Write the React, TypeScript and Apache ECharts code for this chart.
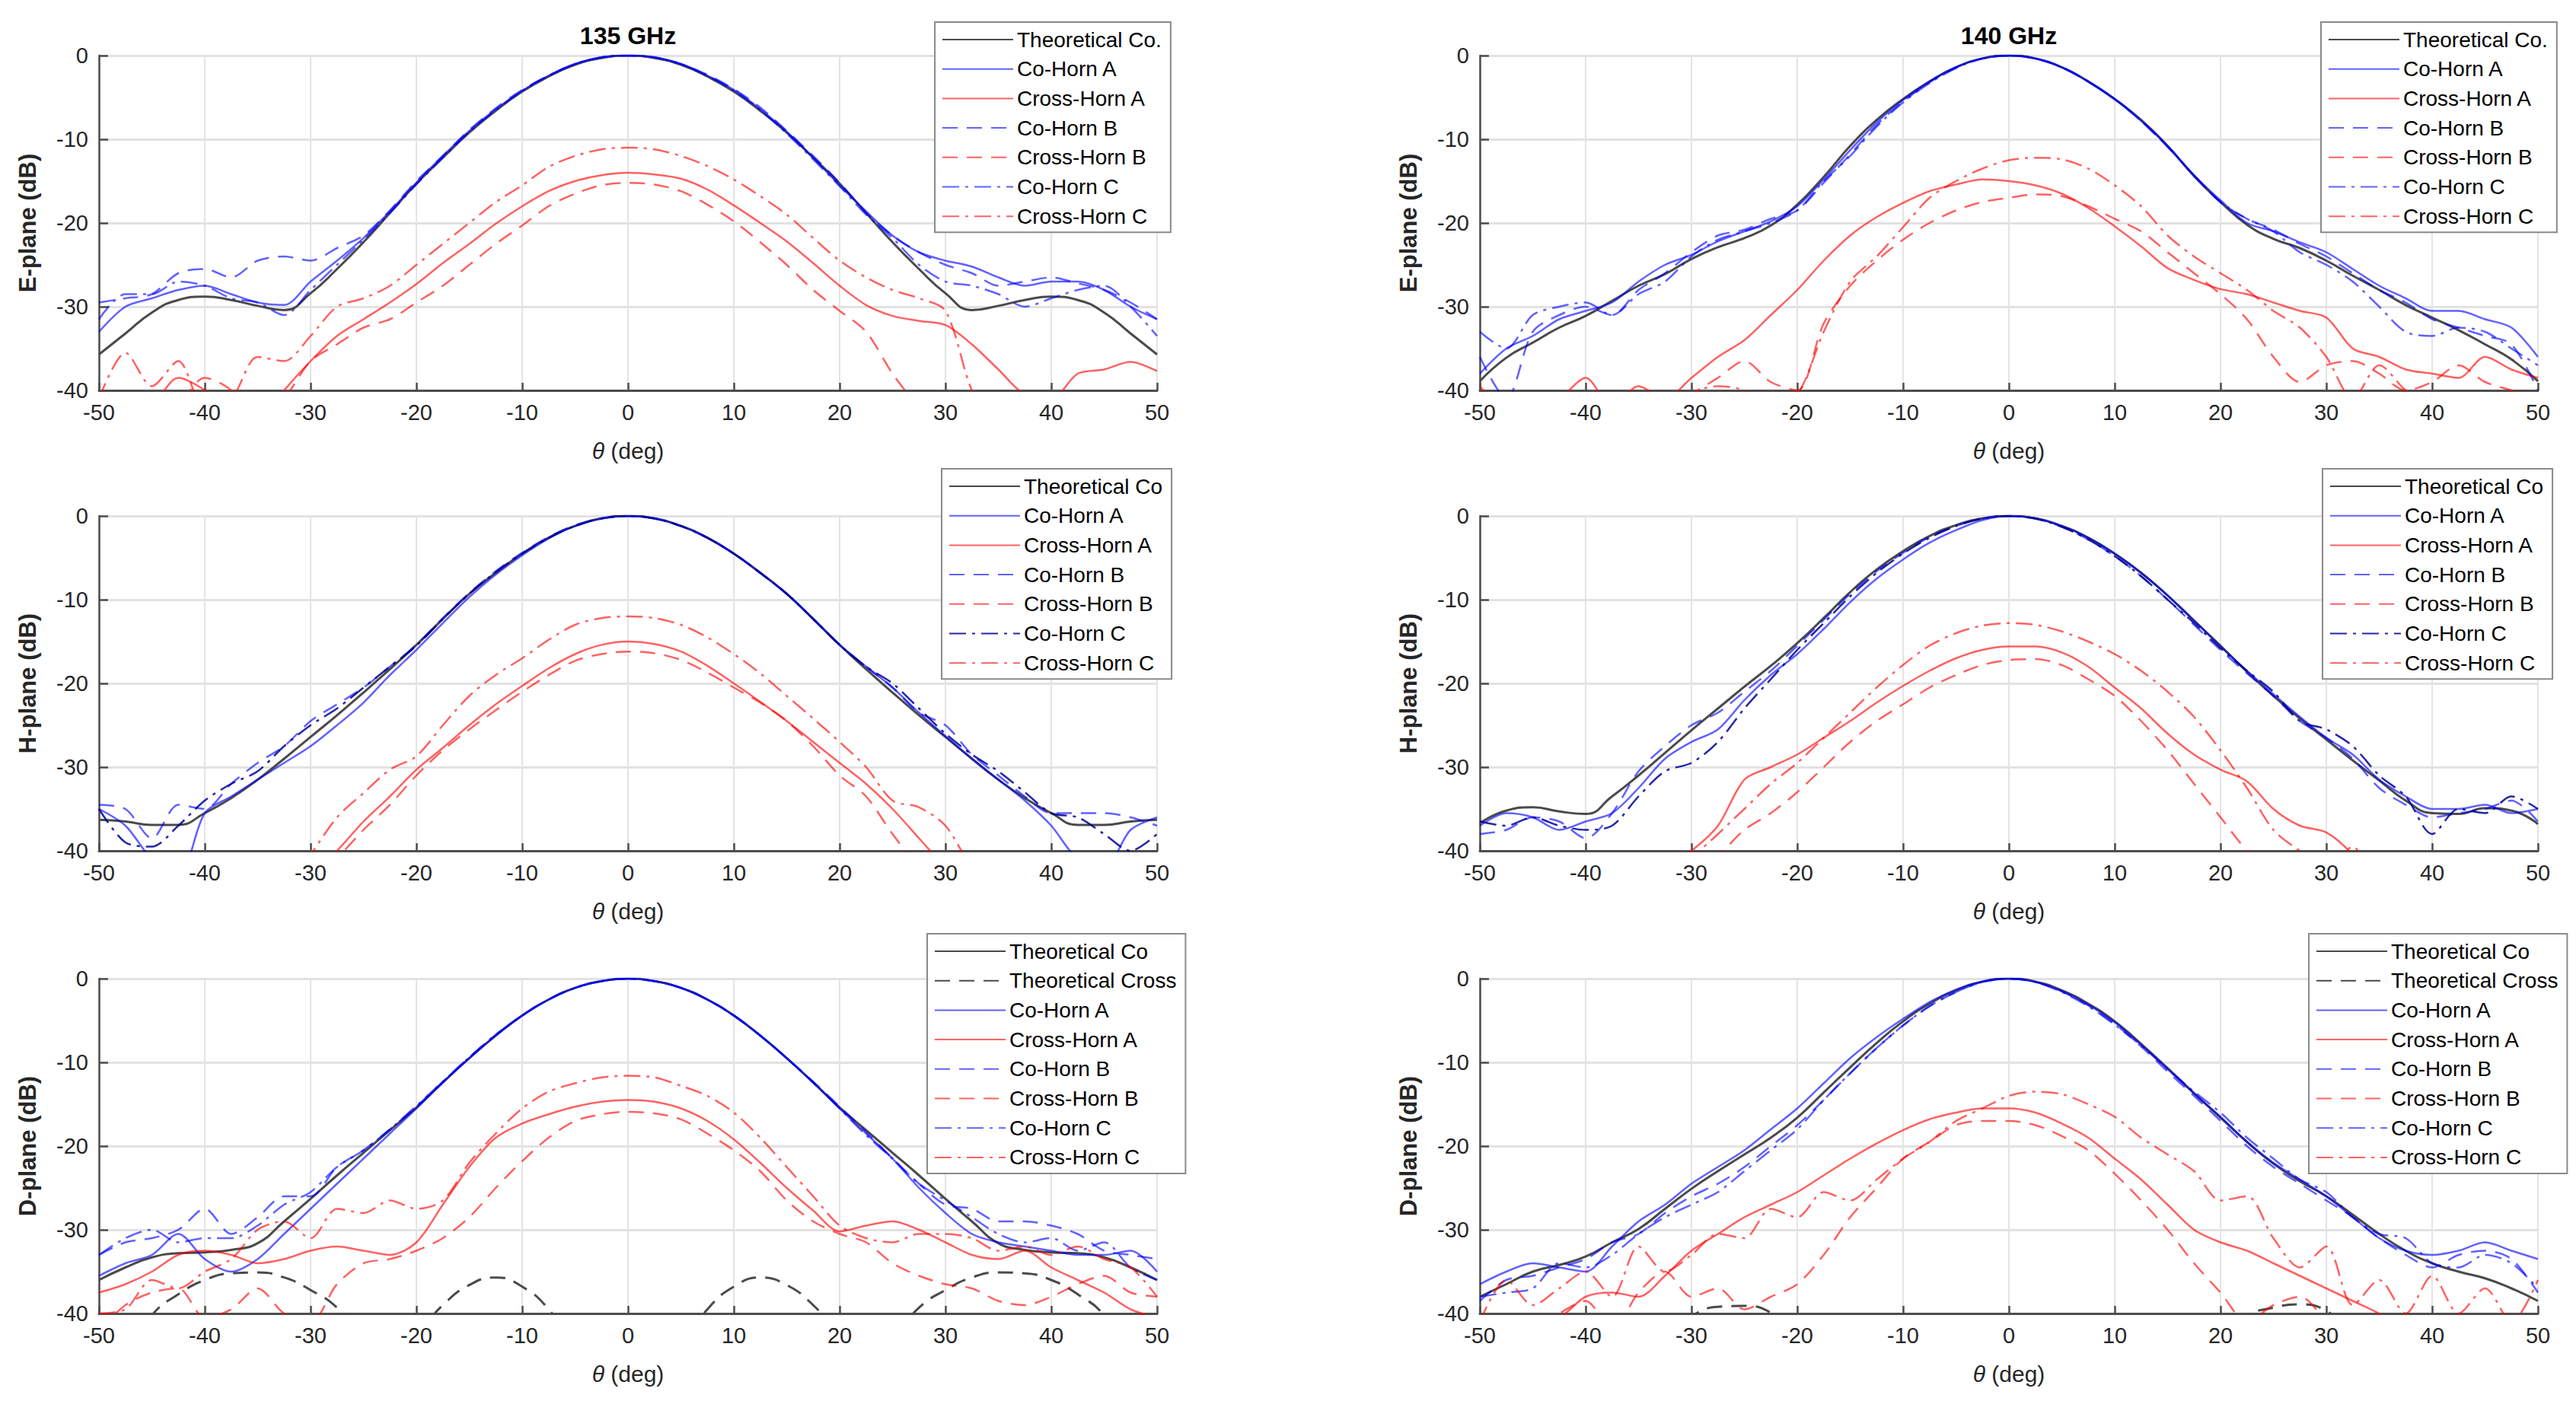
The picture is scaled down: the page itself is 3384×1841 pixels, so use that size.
import React, { useEffect, useRef } from 'react'
import * as echarts from 'echarts'

// angle grid shared by every curve (deg)
const theta = [
  -50, -47.5, -45, -42.5, -40, -37.5, -35, -32.5, -30, -27.5,
  -25, -22.5, -20, -17.5, -15, -12.5, -10, -7.5, -5, -2.5,
  0,
  2.5, 5, 7.5, 10, 12.5, 15, 17.5, 20, 22.5, 25,
  27.5, 30, 32.5, 35, 37.5, 40, 42.5, 45, 47.5, 50,
]

const xTicks = [-50, -40, -30, -20, -10, 0, 10, 20, 30, 40, 50]
const yTicks = [-40, -30, -20, -10, 0]

// ---- E-plane 135 GHz ----
const theoE135 = [
  -35.7, -33.2, -30.7, -29.2, -28.8, -29.2, -29.9, -30.4, -28.4, -25.5,
  -22.3, -18.8, -15.3, -12.2, -9.2, -6.6, -4.3, -2.5, -1.1, -0.3,
  0,
  -0.3, -1.1, -2.5, -4.3, -6.6, -9.2, -12.2, -15.3, -18.8, -22.3,
  -25.5, -28.4, -30.4, -29.9, -29.2, -28.8, -29.2, -30.7, -33.2, -35.7,
]
const coAE135 = [
  -33, -30, -29, -28, -27.5, -28.5, -29.5, -29.8, -27, -24.5,
  -21.8, -18.6, -15.2, -12, -9, -6.4, -4.2, -2.4, -1, -0.2,
  0,
  -0.2, -1, -2.4, -4.1, -6.4, -9.1, -12.2, -15.5, -18.6, -21.5,
  -23.5, -24.5, -25.2, -26.5, -27.5, -27, -27, -28, -30, -31.5,
]
const coBE135 = [
  -29.5, -29, -28.5, -26, -25.5, -26.5, -24.5, -24, -24.5, -23,
  -21.5, -18.5, -15, -12, -8.9, -6.3, -4.1, -2.4, -1, -0.2,
  0,
  -0.2, -1, -2.3, -4, -6.2, -9, -12, -15.2, -18.8, -21.5,
  -23.5, -25, -26, -27.5, -27, -26.5, -27.2, -28, -29.5, -31.5,
]
const coCE135 = [
  -31.5, -28.5, -28.5, -27, -27.5, -29, -29.5, -31, -28, -25,
  -22, -18.8, -15.4, -12.2, -9.1, -6.5, -4.2, -2.4, -1, -0.2,
  0,
  -0.2, -1, -2.4, -4.2, -6.5, -9.3, -12.4, -15.6, -19, -21.8,
  -25, -27, -27.5, -28.5, -30, -29, -28, -27.5, -30, -33.5,
]
const crossAE135 = [
  -44, -44, -42, -38.5, -40, -43, -44, -40, -36.5, -33.5,
  -31.5, -29.5, -27.3, -24.8, -22.5, -20.1, -18, -16.2, -15, -14.3,
  -14,
  -14.2, -14.7, -16, -17.9, -20, -22.2, -24.8, -27.5, -29.8, -31.1,
  -31.7, -32.2, -34.5, -37.5, -40.5, -41, -38, -37.5, -36.6, -37.7,
]
const crossBE135 = [
  -45, -45, -45, -42, -38.5, -40, -44, -41, -36.5, -34.5,
  -32.5, -31.5, -29.5, -27.5, -25, -22.5, -20.3, -18, -16.5, -15.5,
  -15.2,
  -15.4, -16.2, -17.8, -19.8, -22.3, -25, -28, -30.5, -33, -38,
  -42, -45, -45, -45, -45, -45, -45, -45, -45, -45,
]
const crossCE135 = [
  -41, -35.5, -39.5, -36.5, -42, -41, -36, -36.5, -33.5, -30,
  -29, -27.5, -25, -22.5, -20, -17.5, -15.5, -13.3, -12, -11.2,
  -11,
  -11.2, -12, -13.2, -14.8, -16.8, -19, -21.8, -24.5, -26.5, -28,
  -29, -30.5, -40, -45, -45, -45, -45, -45, -45, -45,
]

// ---- E-plane 140 GHz ----
const theoE140 = [
  -38.9, -36.1, -34.3, -32.5, -31.1, -29.3, -27.5, -26.1, -24.3, -22.9,
  -21.8, -20.3, -17.8, -14.5, -10.8, -7.7, -5.2, -3.1, -1.4, -0.35,
  0,
  -0.35, -1.4, -3.1, -5.2, -7.7, -10.8, -14.4, -17.5, -20.2, -21.9,
  -23, -24.5, -26.3, -28, -29.8, -31.3, -32.8, -34.5, -36.3, -38.9,
]
const coAE140 = [
  -38, -35, -33.5, -31.5, -30.5, -29.5, -27, -25, -23.8, -22.2,
  -21, -19.8, -18, -14.8, -11.3, -8, -5.3, -3.1, -1.4, -0.35,
  0,
  -0.35, -1.4, -3.1, -5.2, -7.8, -10.8, -14.3, -17.3, -20, -21,
  -22.3, -23.5, -25.5, -27.5, -29, -30.5, -30.5, -31.5, -32.5, -36,
]
const coBE140 = [
  -36, -41, -33, -31, -30, -31, -28, -26, -23.5, -21.5,
  -20.8, -19.5, -18.5, -15.2, -11.8, -8.3, -5.5, -3.2, -1.4, -0.35,
  0,
  -0.35, -1.4, -3.1, -5.2, -7.8, -10.9, -14.3, -17.5, -19.5, -20.8,
  -22.5, -24, -26, -28, -29.5, -31.5, -32.5, -33.5, -34.5, -40,
]
const coCE140 = [
  -33, -35, -31, -30, -29.5, -31, -28.5, -27, -24, -22,
  -21, -20, -18.5, -15, -12, -8.5, -5.6, -3.3, -1.5, -0.35,
  0,
  -0.35, -1.4, -3.1, -5.2, -7.8, -10.9, -14.3, -17.5, -19.5, -21,
  -23.5, -25, -27, -30, -33, -33.5, -32.5, -33, -35, -37,
]
const crossAE140 = [
  -39.5, -42, -42, -41, -38.5, -42, -39.5, -41, -38.5, -36,
  -34, -31, -28, -24.5, -21.5, -19.3, -17.6, -16.2, -15.4, -14.8,
  -15,
  -15.5, -16.5, -18.2, -20.4, -22.8, -25.4, -26.8, -27.9, -28.5, -29.5,
  -30.5, -31.3, -35, -36, -37.5, -38, -38.5, -36, -37.5, -38.5,
]
const crossBE140 = [
  -45, -45, -45, -45, -45, -45, -45, -43, -40.5, -38.5,
  -36.5, -39, -40, -32, -27.5, -24.5, -22, -20, -18.5, -17.5,
  -17,
  -16.6, -16.8, -18, -19.5, -21, -23.5, -26, -28.5, -31.5, -36,
  -39, -37, -36.5, -38, -40, -39, -37, -39, -40, -41,
]
const crossCE140 = [
  -45, -45, -45, -45, -45, -45, -45, -45, -40.5, -39.5,
  -40, -42, -40.5, -33, -27, -24, -20.5, -17, -15, -13.5,
  -12.5,
  -12.2, -12.4, -13.5, -15.5, -18, -21.5, -24, -26, -28, -30.5,
  -32.5, -36, -41, -37, -40, -42, -45, -45, -45, -45,
]

// ---- H-plane 135 GHz ----
const theoH135 = [
  -36.3, -36.5, -36.9, -36.9, -35.5, -33.7, -31.5, -29, -26.4, -23.8,
  -21.1, -18.3, -15.4, -12.3, -9.3, -6.8, -4.5, -2.6, -1.2, -0.3,
  0,
  -0.3, -1.2, -2.6, -4.5, -6.8, -9.3, -12.3, -15.4, -18.3, -21.1,
  -23.8, -26.4, -29, -31.5, -33.7, -35.5, -36.9, -36.9, -36.5, -36.3,
]
const coAH135 = [
  -35, -37, -41, -43, -35.5, -33.5, -31.5, -29.5, -27.5, -25,
  -22.3, -19, -16, -12.8, -9.7, -7, -4.7, -2.7, -1.2, -0.3,
  0,
  -0.3, -1.2, -2.6, -4.5, -6.8, -9.3, -12.3, -15.4, -18, -20.5,
  -23.5, -26.3, -29, -31.5, -34, -37, -41, -42, -37.5, -36,
]
const coBH135 = [
  -34.5, -35, -38.5, -34.5, -35, -32, -29.5, -27.5, -24.5, -22.5,
  -20.5, -18, -15.4, -12.2, -9.2, -6.6, -4.4, -2.5, -1.1, -0.3,
  0,
  -0.3, -1.2, -2.6, -4.5, -6.8, -9.3, -12.3, -15.4, -18, -20.5,
  -23.5, -25, -28.5, -31, -33.5, -35.5, -35.5, -35.5, -36, -37,
]
const coCH135 = [
  -35, -39, -39.5, -37, -34, -32, -30.5, -27.5, -25, -23,
  -20.5, -18, -15.5, -12.3, -9.3, -6.7, -4.5, -2.6, -1.2, -0.3,
  0,
  -0.3, -1.2, -2.6, -4.5, -6.8, -9.3, -12.3, -15.4, -18, -20,
  -23, -26, -28.5, -30.5, -33, -35.5, -36, -38, -40, -38,
]
const crossAH135 = [
  -45, -45, -45, -45, -45, -45, -45, -45, -43, -40,
  -36.5, -33.5, -30.3, -27.7, -25, -22.5, -20.3, -18.2, -16.5, -15.4,
  -15,
  -15.3, -16.2, -17.9, -20, -22.2, -24.5, -27, -29.5, -32, -35,
  -38.5, -42, -45, -45, -45, -45, -45, -45, -45, -45,
]
const crossBH135 = [
  -45, -45, -45, -45, -45, -45, -45, -45, -45, -41,
  -37.5, -34.5, -31, -28, -25.5, -23.2, -21, -19, -17.3, -16.5,
  -16.2,
  -16.4, -17.2, -18.7, -20.5, -22.3, -24.5, -27.5, -31, -33.5, -38,
  -42, -45, -45, -45, -45, -45, -45, -45, -45, -45,
]
const crossCH135 = [
  -45, -45, -45, -45, -45, -45, -45, -45, -40.5, -36,
  -33.1, -30.3, -28.7, -25, -21.5, -19, -17, -14.8, -13, -12.2,
  -12,
  -12.2, -13, -14.5, -16.5, -18.8, -21.5, -24.2, -27, -30, -34,
  -34.8, -37, -42, -45, -45, -45, -45, -45, -45, -45,
]

// ---- H-plane 140 GHz ----
const theoH140 = [
  -36.7, -35.2, -34.8, -35.3, -35.6, -33.5, -31, -28.3, -25.6, -23,
  -20.4, -17.9, -15.2, -12.2, -9.1, -6.4, -4.2, -2.4, -1.1, -0.3,
  0,
  -0.3, -1.2, -2.6, -4.5, -6.8, -9.5, -12.5, -15.5, -18.6, -21.5,
  -24.2, -26.7, -29.2, -31.6, -34, -35.5, -35.6, -34.9, -35.2, -36.8,
]
const coAH140 = [
  -37, -35.5, -36, -37.5, -36.5, -35.5, -32.5, -29, -27, -25.5,
  -22, -19, -16.5, -13.5, -10.3, -7.5, -5.2, -3.2, -1.7, -0.5,
  0,
  -0.3, -1.2, -2.6, -4.5, -6.8, -9.5, -12.5, -15.6, -18.5, -21.3,
  -24, -26.5, -28.5, -31.5, -33.5, -35, -35, -34.5, -35.5, -35,
]
const coBH140 = [
  -38, -37.5, -36, -36.5, -38.5, -35.5, -30.5, -27.5, -25, -23.5,
  -21, -18.5, -15.5, -12.4, -9.3, -6.6, -4.4, -2.5, -1.2, -0.3,
  0,
  -0.3, -1.3, -2.8, -4.8, -7.2, -10, -13, -16, -18.8, -21.5,
  -24.5, -26.5, -29, -32.5, -34.5, -36, -35.5, -35, -34, -36.5,
]
const coCH140 = [
  -36.5, -37, -36, -37, -37.5, -37, -33.5, -30.5, -29.5, -27,
  -23, -19.5, -16, -12.8, -9.6, -6.8, -4.5, -2.6, -1.2, -0.3,
  0,
  -0.3, -1.3, -2.8, -4.8, -7.2, -10, -12.8, -15.8, -18.5, -21,
  -24.5, -25.5, -27.5, -31, -33.5, -38, -35, -35.5, -33.5, -35,
]
const crossAH140 = [
  -45, -45, -45, -45, -45, -45, -45, -42, -40, -37,
  -31.5, -30, -28.5, -26.5, -24.5, -22.3, -20.3, -18.5, -17, -16,
  -15.6,
  -15.6, -16.3, -18, -20.5, -23, -26, -28.5, -30.3, -31.7, -35,
  -37, -37.8, -40.5, -45, -45, -45, -45, -45, -45, -45,
]
const crossBH140 = [
  -45, -45, -45, -45, -45, -45, -45, -45, -42, -40.5,
  -37.5, -35.5, -33, -30, -27, -24.5, -22.5, -20.5, -19, -17.8,
  -17.2,
  -17.1, -17.8, -19.5, -21.5, -24.5, -28, -32, -36, -40, -43,
  -45, -45, -45, -45, -45, -45, -45, -45, -45, -45,
]
const crossCH140 = [
  -45, -45, -45, -45, -45, -45, -45, -45, -41, -38,
  -35, -32, -29.5, -26.5, -23.5, -20.5, -17.8, -15.5, -14, -13.1,
  -12.8,
  -13, -13.8, -15, -16.5, -18.5, -21, -24, -28, -32.5, -37.5,
  -40, -42, -39.5, -45, -45, -45, -45, -45, -45, -45,
]

// ---- D-plane 135 GHz ----
const theoD135 = [
  -36, -34.5, -33.3, -32.8, -32.7, -32.4, -31.6, -29, -26.3, -23.5,
  -20.8, -18.1, -15.4, -12.4, -9.5, -6.8, -4.4, -2.5, -1.1, -0.3,
  0,
  -0.3, -1.1, -2.5, -4.4, -6.8, -9.5, -12.4, -15.4, -18.1, -20.8,
  -23.5, -26.3, -29, -31.6, -32.4, -32.7, -32.8, -33.3, -34.5, -36,
]
const theoXD135 = [
  -45, -45, -40.2, -37.7, -36, -35.2, -35.1, -35.7, -37.2, -39.3,
  -43, -45, -42.5, -39, -36.6, -35.7, -36.8, -39.5, -44, -45,
  -45,
  -45, -44, -39.5, -36.8, -35.7, -36.6, -39, -42.5, -45, -43,
  -39.3, -37.2, -35.7, -35.1, -35.2, -36, -37.7, -40.2, -45, -45,
]
const coAD135 = [
  -35.5, -34, -33, -30.5, -33.5, -35, -33.5, -30.5, -27.5, -24.5,
  -21.5, -18.5, -15.5, -12.4, -9.5, -6.8, -4.4, -2.5, -1.1, -0.3,
  0,
  -0.3, -1.1, -2.5, -4.4, -6.8, -9.5, -12.4, -15.5, -18.5, -21.5,
  -25, -28, -30.5, -31.5, -32, -32.5, -33, -33, -32.5, -35,
]
const coBD135 = [
  -33, -31.5, -31, -30, -27.5, -30.5, -28.5, -26, -26, -22.5,
  -20.5, -18, -15.3, -12.3, -9.4, -6.7, -4.4, -2.5, -1.1, -0.3,
  0,
  -0.3, -1.1, -2.5, -4.4, -6.8, -9.5, -12.3, -15.3, -18.3, -21.5,
  -24.5, -27, -27.5, -29, -29, -29.5, -30.5, -32.5, -33, -33.5,
]
const coCD135 = [
  -33, -31, -30, -31.5, -31, -31, -29.5, -27, -25.5, -22.5,
  -20.5, -18, -15.2, -12.3, -9.4, -6.7, -4.4, -2.5, -1.1, -0.3,
  0,
  -0.3, -1.1, -2.5, -4.4, -6.8, -9.5, -12.4, -15.5, -18.7, -21.5,
  -24.5, -26.5, -28.5, -30.5, -31.5, -31, -32.5, -31.5, -34.5, -36,
]
const crossAD135 = [
  -37.5, -36.5, -35, -33, -32.5, -33, -34, -33.5, -32.5, -32,
  -32.5, -33, -31.5, -27, -22.5, -19, -17.3, -16.2, -15.3, -14.7,
  -14.5,
  -14.7, -15.5, -17, -19.2, -22, -25, -27.7, -30.2, -29.5, -29,
  -30, -31.5, -33, -33.5, -32.5, -34.5, -36, -37.5, -39.5, -40.5,
]
const crossBD135 = [
  -42, -39, -37.5, -37, -40.5, -39.5, -37, -40, -41, -36.5,
  -34, -33.5, -32.5, -31, -28.5, -25, -21.8, -19, -17, -16.2,
  -15.9,
  -16.1, -16.8, -18.5, -20.5, -23, -26.5, -29, -30.5, -31.5, -34,
  -35.5, -36.5, -37, -38.5, -39, -38, -36.5, -35.5, -37.5, -38,
]
const crossCD135 = [
  -40, -39.5, -36, -37, -35, -33.5, -30, -29, -31, -27.5,
  -28, -26.5, -27.5, -26.5, -22, -18.5, -15.5, -13.5, -12.5, -11.8,
  -11.6,
  -11.8, -12.8, -14, -16, -19, -22.5, -26, -29.5, -31, -31.5,
  -30.5, -30.5, -31, -32.5, -32, -33, -32, -33.5, -34.5, -38,
]

// ---- D-plane 140 GHz ----
const theoD140 = [
  -38, -36.5, -35, -34.2, -33.2, -31.5, -29.9, -27.5, -25.1, -23,
  -21, -19, -16.6, -13.6, -10.6, -7.7, -5.1, -3, -1.4, -0.35,
  0,
  -0.35, -1.4, -3, -5.1, -7.8, -10.7, -13.7, -16.6, -19.5, -22.1,
  -24.2, -26, -28.2, -30.5, -32.5, -34, -35, -35.8, -37, -38.5,
]
const theoXD140 = [
  -45, -45, -45, -45, -45, -45, -45, -42.5, -40.3, -39.2,
  -39.1, -39.9, -42.5, -45, -45, -45, -45, -45, -45, -45,
  -45,
  -45, -45, -45, -45, -45, -45, -45, -43, -40.3, -39.3,
  -38.9, -39.7, -42.5, -45, -45, -45, -45, -45, -45, -45,
]
const coAD140 = [
  -36.5, -35, -34, -34.5, -35, -32, -29, -27, -24.5, -22.5,
  -20.5, -18, -15.5, -12.5, -9.5, -7, -4.8, -2.8, -1.3, -0.35,
  0,
  -0.4, -1.5, -3.1, -5.2, -7.9, -10.8, -13.7, -16.5, -19.5, -22,
  -24, -26, -28.5, -31, -32.5, -33, -32.5, -31.5, -32.5, -33.5,
]
const coBD140 = [
  -38.5, -36, -35.5, -34.5, -33.5, -31.5, -30.5, -28, -26, -24.5,
  -22.5, -20, -17.5, -14.5, -11.3, -8.3, -5.6, -3.3, -1.6, -0.4,
  0,
  -0.4, -1.5, -3.2, -5.4, -8.1, -11.1, -14, -17, -20, -22.5,
  -24.5, -26.5, -28.5, -31, -33, -34.5, -33, -32.5, -33.5, -37.5,
]
const coCD140 = [
  -38, -37.5, -37, -34, -34.5, -33, -30.5, -28.5, -27, -25.5,
  -23, -20.5, -18, -14.5, -11.3, -8.3, -5.6, -3.3, -1.6, -0.4,
  0,
  -0.4, -1.6, -3.3, -5.5, -8, -10.8, -13.5, -16, -19, -21.5,
  -24, -25.5, -28.5, -30.5, -31, -34, -34.5, -33, -34, -37,
]
const crossAD140 = [
  -45, -42, -41, -40.5, -38, -37.5, -38, -35.5, -32.5, -30.5,
  -28.5, -27, -25.5, -23.5, -21.5, -19.7, -18.1, -16.8, -16, -15.5,
  -15.5,
  -16, -17.3, -19, -21.5, -24, -27, -30, -31.5, -32.5, -34,
  -35.5, -37, -38.5, -40, -42, -45, -45, -45, -45, -45,
]
const crossBD140 = [
  -45, -45, -42, -40, -38.5, -42, -37.5, -35, -38, -37,
  -39.5, -38, -36.5, -33, -28.5, -25, -21.5, -19.5, -17.5, -17,
  -17,
  -17.5, -18.8, -20.5, -23.3, -26.5, -30, -34, -37.5, -41, -39,
  -38, -41, -45, -42, -45, -43, -45, -45, -45, -45,
]
const crossCD140 = [
  -41, -36, -39, -37, -35, -38, -32, -35, -33, -30.5,
  -31, -27.5, -28.5, -25.5, -26.5, -24, -21.5, -19.5, -17, -15.5,
  -14,
  -13.5, -13.8, -15, -16.5, -19, -21, -23, -26.5, -26, -31,
  -34.5, -32, -39, -36, -40, -35.5, -40, -37, -41, -36,
]

const measuredNames = ['Co-Horn A', 'Cross-Horn A', 'Co-Horn B', 'Cross-Horn B', 'Co-Horn C', 'Cross-Horn C']

const FONT = '"Liberation Sans", Arial, sans-serif'
const BLUE = 'rgba(0, 0, 255, 0.62)'
const BLUE_DARK = 'rgba(0, 0, 150, 0.85)'
const RED = 'rgba(255, 0, 0, 0.62)'
const GREY = '#4a4a4a'
const DASH = [20, 12]
const DASH_DOT = [22, 8, 4, 8]

const panels = [
  { yName: 'E-plane (dB)', title: '135 GHz', left: 130, top: 73, theoName: 'Theoretical Co.', theo: theoE135, theoX: null,
    measured: [coAE135, crossAE135, coBE135, crossBE135, coCE135, crossCE135], darkC: false, legendLeft: 1228, legendTop: 29 },
  { yName: 'E-plane (dB)', title: '140 GHz', left: 1944, top: 73, theoName: 'Theoretical Co.', theo: theoE140, theoX: null,
    measured: [coAE140, crossAE140, coBE140, crossBE140, coCE140, crossCE140], darkC: false, legendLeft: 3049, legendTop: 29 },
  { yName: 'H-plane (dB)', title: '', left: 130, top: 678, theoName: 'Theoretical Co', theo: theoH135, theoX: null,
    measured: [coAH135, crossAH135, coBH135, crossBH135, coCH135, crossCH135], darkC: true, legendLeft: 1237, legendTop: 616 },
  { yName: 'H-plane (dB)', title: '', left: 1944, top: 678, theoName: 'Theoretical Co', theo: theoH140, theoX: null,
    measured: [coAH140, crossAH140, coBH140, crossBH140, coCH140, crossCH140], darkC: true, legendLeft: 3051, legendTop: 616 },
  { yName: 'D-plane (dB)', title: '', left: 130, top: 1286, theoName: 'Theoretical Co', theo: theoD135, theoX: theoXD135,
    measured: [coAD135, crossAD135, coBD135, crossBD135, coCD135, crossCD135], darkC: false, legendLeft: 1218, legendTop: 1227 },
  { yName: 'D-plane (dB)', title: '', left: 1944, top: 1286, theoName: 'Theoretical Co', theo: theoD140, theoX: theoXD140,
    measured: [coAD140, crossAD140, coBD140, crossBD140, coCD140, crossCD140], darkC: false, legendLeft: 3033, legendTop: 1227 },
]

const PLOT_W = 1390
const PLOT_H = 440

function buildOption() {
  const grid: any[] = []
  const xAxis: any[] = []
  const yAxis: any[] = []
  const series: any[] = []
  const legend: any[] = []
  const graphic: any[] = []

  panels.forEach((p, k) => {
    grid.push({ left: p.left, top: p.top, width: PLOT_W, height: PLOT_H })

    xAxis.push({
      gridIndex: k,
      type: 'value',
      min: xTicks[0],
      max: xTicks[xTicks.length - 1],
      interval: 10,
      name: '{i|θ} (deg)',
      nameLocation: 'middle',
      nameGap: 64,
      nameTextStyle: {
        fontSize: 30,
        color: '#262626',
        rich: { i: { fontSize: 30, fontStyle: 'italic', color: '#262626' } },
      },
      axisLine: { show: true, onZero: false, lineStyle: { color: '#4d4d4d', width: 3 } },
      axisTick: { show: true, inside: true, length: 10, lineStyle: { color: '#4d4d4d', width: 2.5 } },
      axisLabel: { fontSize: 29, color: '#262626', margin: 14 },
      splitLine: { show: true, lineStyle: { color: '#e4e4e4', width: 2 } },
    })

    yAxis.push({
      gridIndex: k,
      type: 'value',
      min: yTicks[0],
      max: yTicks[yTicks.length - 1],
      interval: 10,
      name: p.yName,
      nameLocation: 'middle',
      nameGap: 78,
      nameTextStyle: { fontSize: 31, fontWeight: 'bold', color: '#262626' },
      axisLine: { show: true, onZero: false, lineStyle: { color: '#4d4d4d', width: 2.5 } },
      axisTick: { show: true, inside: true, length: 12, lineStyle: { color: '#4d4d4d', width: 2.5 } },
      axisLabel: { fontSize: 29, color: '#262626', margin: 14 },
      splitLine: { show: true, lineStyle: { color: '#e2e2e2', width: 3 } },
    })

    const tag = '#' + k
    const names: string[] = []
    const add = (name: string, values: number[], color: string, type: any, width: number, smooth: number) => {
      series.push({
        type: 'line',
        name: name + tag,
        xAxisIndex: k,
        yAxisIndex: k,
        data: theta.map((t, i) => [t, values[i]]),
        symbol: 'none',
        smooth,
        clip: true,
        silent: true,
        color,
        lineStyle: { color, type, width },
      })
      names.push(name + tag)
    }

    add(p.theoName, p.theo, GREY, 'solid', 3, 0.5)
    if (p.theoX) add('Theoretical Cross', p.theoX, GREY, DASH, 3, 0.5)
    const styles = [
      [BLUE, 'solid'], [RED, 'solid'],
      [BLUE, DASH], [RED, DASH],
      [p.darkC ? BLUE_DARK : BLUE, DASH_DOT], [RED, DASH_DOT],
    ]
    measuredNames.forEach((n, j) => {
      add(n, p.measured[j], styles[j][0] as string, styles[j][1], 2.5, 0.3)
    })

    legend.push({
      data: names,
      orient: 'vertical',
      left: p.legendLeft,
      top: p.legendTop,
      itemWidth: 93,
      itemHeight: 30,
      itemGap: 8.7,
      padding: [8, 12, 6, 9],
      backgroundColor: '#ffffff',
      borderColor: '#8a8a8a',
      borderWidth: 2,
      selectedMode: false,
      itemStyle: { opacity: 0 },
      textStyle: { fontSize: 28, color: '#000', lineHeight: 30, fontFamily: FONT },
      formatter: (name: string) => name.split('#')[0],
      z: 10,
    })

    if (p.title) {
      graphic.push({
        type: 'text',
        x: p.left + PLOT_W / 2,
        y: 47,
        style: {
          text: p.title,
          fontSize: 32,
          fontWeight: 'bold',
          fontFamily: FONT,
          fill: '#000',
          align: 'center',
          verticalAlign: 'middle',
          textAlign: 'center',
          textVerticalAlign: 'middle',
        },
      })
    }
  })

  return {
    animation: false,
    backgroundColor: '#ffffff',
    textStyle: { fontFamily: FONT },
    grid,
    xAxis,
    yAxis,
    legend,
    graphic,
    series,
  }
}

const App: React.FC = () => {
  const chartRef = useRef<HTMLDivElement>(null)

  useEffect(() => {
    if (!chartRef.current) return
    const chart = echarts.init(chartRef.current, undefined, { renderer: 'svg' })
    chart.setOption(buildOption())
    return () => {
      chart.dispose()
    }
  }, [])

  return (
    <div
      ref={chartRef}
      style={{ position: 'fixed', left: 0, top: 0, width: 3384, height: 1841, background: '#fff' }}
    />
  )
}

export default App
